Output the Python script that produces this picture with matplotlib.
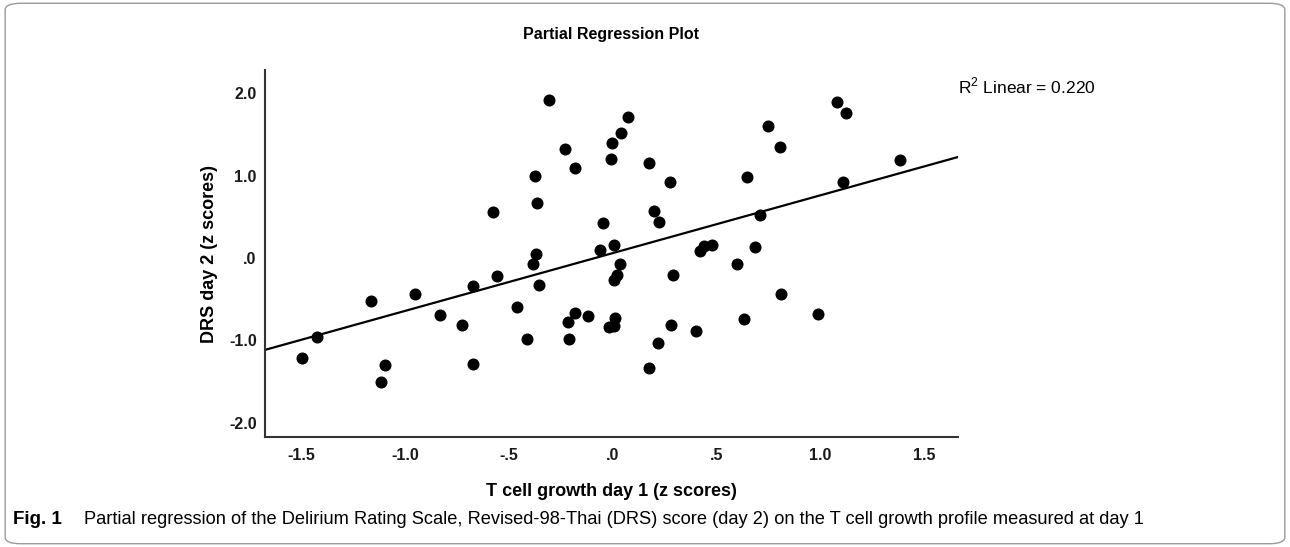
import matplotlib; matplotlib.use("Agg")
import matplotlib.pyplot as plt
from matplotlib.patches import FancyBboxPatch
from matplotlib.ticker import FuncFormatter
from matplotlib import font_manager
import numpy as np

# T cell growth day 1 (z scores) vs DRS day 2 (z scores)
t_cell = [-0.307, 0.072, 0.037, -0.005, -0.230, -0.008, 0.172, -0.183, -0.377, 0.275,
          0.648, -0.368, 0.198, 0.220, -0.048, 0.005, -0.063, -0.373, 0.419, 0.439,
          0.477, 0.600, 0.036, 1.081, 1.123, 0.747, 0.806, 1.383, 1.107, 0.710,
          0.687, -0.580, -0.559, -0.672, -0.954, -1.168, -0.834, -0.725, -1.425, -1.500,
          -1.097, -0.676, -1.120, -0.383, -0.357, 0.018, 0.007, 0.292, -0.463, -0.181,
          -0.218, -0.119, 0.010, -0.018, 0.007, -0.416, -0.214, 0.278, 0.399, 0.218,
          0.173, 0.631, 0.808, 0.989]
drs = [1.915, 1.713, 1.519, 1.394, 1.325, 1.200, 1.148, 1.095, 0.998, 0.925,
       0.982, 0.670, 0.573, 0.433, 0.424, 0.154, 0.097, 0.048, 0.088, 0.145,
       0.154, -0.076, -0.073, 1.895, 1.761, 1.604, 1.345, 1.188, 0.921, 0.525,
       0.130, 0.554, -0.215, -0.339, -0.433, -0.521, -0.691, -0.812, -0.954, -1.216,
       -1.297, -1.288, -1.499, -0.067, -0.327, -0.206, -0.267, -0.206, -0.594, -0.663,
       -0.772, -0.703, -0.733, -0.833, -0.822, -0.976, -0.976, -0.808, -0.891, -1.027,
       -1.337, -0.739, -0.440, -0.683]

x_ticks = [-1.5, -1.0, -0.5, 0.0, 0.5, 1.0, 1.5]
y_ticks = [-2.0, -1.0, 0.0, 1.0, 2.0]
r2_text = "R$^2$ Linear = 0.220"
caption = ('Partial regression of the Delirium Rating Scale, Revised-98-Thai (DRS) score (day 2) '
           'on the T cell growth profile measured at day 1')

plt.rcParams['font.family'] = ['Liberation Sans', 'DejaVu Sans']
plt.rcParams['mathtext.fontset'] = 'custom'
plt.rcParams['mathtext.rm'] = 'Liberation Sans'

names = {f.name for f in font_manager.fontManager.ttflist}
cap_font = 'Liberation Sans Narrow' if 'Liberation Sans Narrow' in names else 'Liberation Sans'

fig = plt.figure(figsize=(12.9, 5.47), dpi=100)
ax = fig.add_axes([0.2054, 0.2011, 0.5372, 0.6709])

# outer rounded frame
frame = FancyBboxPatch((0.004, 0.006), 0.992, 0.988, boxstyle="round,pad=0,rounding_size=0.012",
                       transform=fig.transFigure, facecolor='none', edgecolor='#9a9a9a', linewidth=1.0)
fig.patches.append(frame)

ax.scatter(t_cell, drs, s=75, color='black', zorder=3, linewidths=0)

# least-squares fit line
slope, intercept = np.polyfit(t_cell, drs, 1)
xl = np.array([-1.677, 1.663])
ax.plot(xl, slope * xl + intercept, color='black', linewidth=1.6, zorder=2)

ax.set_xlim(-1.677, 1.663)
ax.set_ylim(-2.17, 2.279)
ax.set_xticks(x_ticks)
ax.set_yticks(y_ticks)

def fmt(v, pos):
    s = f"{v:.1f}"
    return s.replace("0.", ".", 1) if abs(v) < 1 else s

ax.xaxis.set_major_formatter(FuncFormatter(fmt))
ax.yaxis.set_major_formatter(FuncFormatter(fmt))
ax.tick_params(length=0, labelsize=11.5)
ax.tick_params(axis='x', pad=8)
ax.tick_params(axis='y', pad=6)
for lab in ax.get_xticklabels() + ax.get_yticklabels():
    lab.set_fontweight('bold')
    lab.set_color('#1a1a1a')

for side in ['top', 'right']:
    ax.spines[side].set_visible(False)
for side in ['left', 'bottom']:
    ax.spines[side].set_color('#333333')
    ax.spines[side].set_linewidth(1.5)

ax.set_xlabel('T cell growth day 1 (z scores)', fontsize=13, fontweight='bold', labelpad=14)
ax.set_ylabel('DRS day 2 (z scores)', fontsize=13, fontweight='bold', labelpad=8)
ax.set_title('Partial Regression Plot', fontsize=11.5, fontweight='bold', pad=22)

fig.text(958 / 1290, 1 - 86 / 547, r2_text, fontsize=12.5, va='center', ha='left')

fig.text(13 / 1290, 1 - 519 / 547, 'Fig. 1', fontsize=13.5, fontweight='bold', va='center',
         family=[cap_font, 'DejaVu Sans'])
cap = fig.text(84 / 1290, 1 - 519 / 547, caption, fontsize=11.5, va='center',
               family=[cap_font, 'DejaVu Sans'])

# fit the caption to the width it takes in the figure
fig.canvas.draw()
w = cap.get_window_extent().width
cap.set_fontsize(11.5 * 1061 / w)

plt.savefig("out.png", dpi=100)
